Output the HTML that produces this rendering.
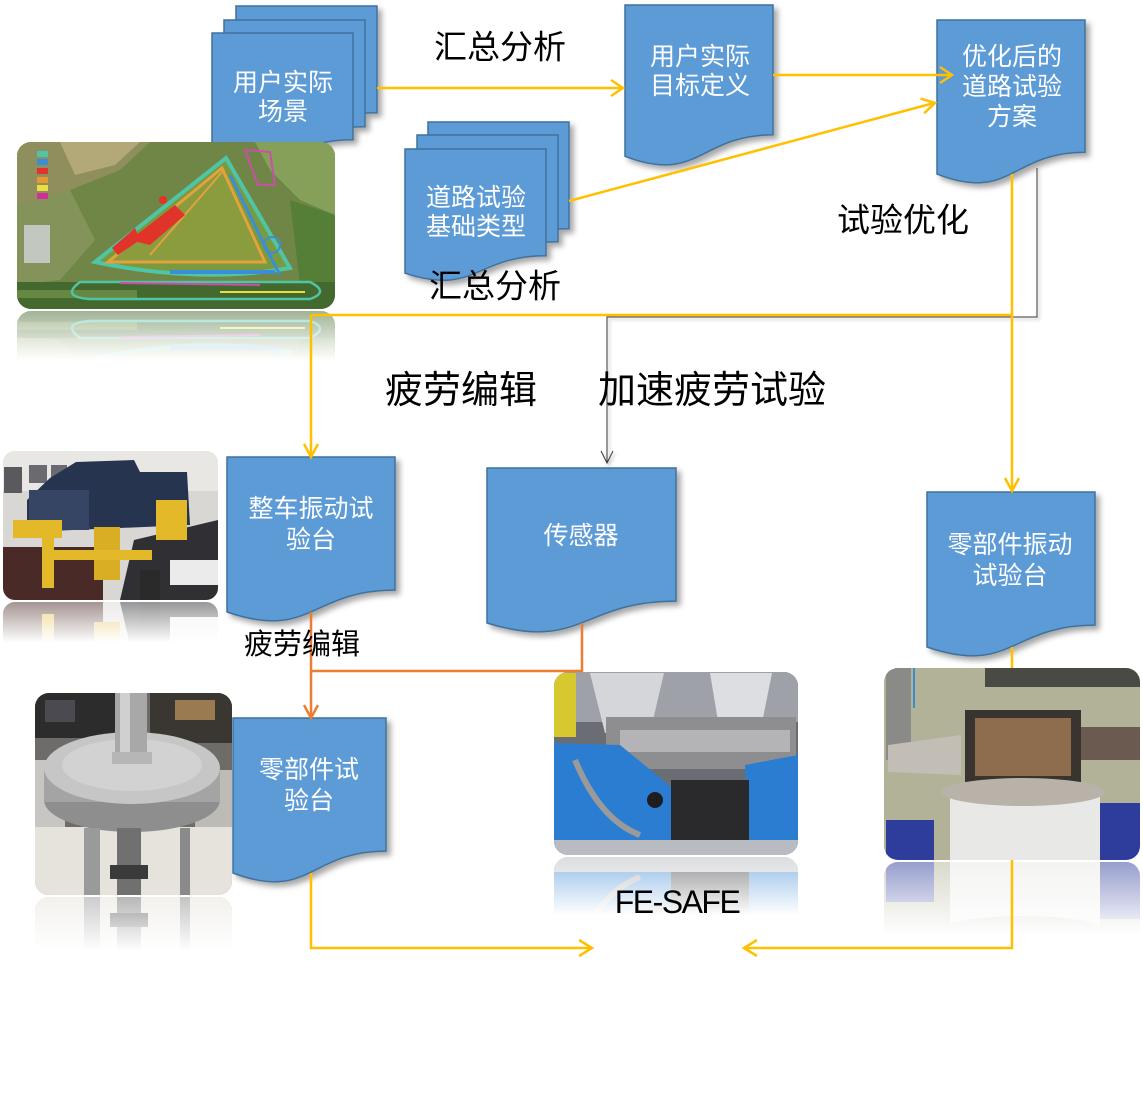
<!DOCTYPE html>
<html><head><meta charset="utf-8"><style>
html,body{margin:0;padding:0;background:#fff;}
body{width:1143px;height:1100px;overflow:hidden;}
svg{display:block;}
.w{fill:#fff;font-size:25px;font-family:"Liberation Sans","Noto Sans CJK SC",sans-serif;text-anchor:middle;dominant-baseline:central;}
.b{fill:#000;font-family:"Liberation Sans","Noto Sans CJK SC",sans-serif;text-anchor:middle;dominant-baseline:central;}
</style></head><body>
<svg width="1143" height="1100" viewBox="0 0 1143 1100" xmlns="http://www.w3.org/2000/svg">
<defs>
<filter id="sh" x="-10%" y="-10%" width="130%" height="130%"><feDropShadow dx="4" dy="4" stdDeviation="3" flood-color="#000" flood-opacity="0.35"/></filter>
<filter id="lsh" x="-5%" y="-5%" width="110%" height="110%"><feDropShadow dx="2" dy="2" stdDeviation="1.5" flood-color="#000" flood-opacity="0.3"/></filter>
<linearGradient id="fade" x1="0" y1="0" x2="0" y2="1"><stop offset="0" stop-color="#fff" stop-opacity="0.5"/><stop offset="0.9" stop-color="#fff" stop-opacity="1"/></linearGradient>
<clipPath id="c1"><rect x="17" y="142" width="318" height="167" rx="14"/></clipPath>
<clipPath id="c2"><rect x="3" y="451" width="215" height="149" rx="12"/></clipPath>
<clipPath id="c3"><rect x="35" y="693" width="197" height="202" rx="14"/></clipPath>
<clipPath id="c4"><rect x="554" y="672" width="244" height="183" rx="14"/></clipPath>
<clipPath id="c5"><rect x="884" y="668" width="256" height="192" rx="14"/></clipPath>
<clipPath id="r1"><rect x="17" y="311" width="318" height="55"/></clipPath>
<clipPath id="r2"><rect x="3" y="602" width="215" height="45"/></clipPath>
<clipPath id="r3"><rect x="35" y="897" width="197" height="60"/></clipPath>
<clipPath id="r4"><rect x="554" y="857" width="244" height="65"/></clipPath>
<clipPath id="r5"><rect x="884" y="862" width="256" height="82"/></clipPath>

<g id="p1" clip-path="url(#c1)">
<rect x="17" y="142" width="318" height="167" fill="#6f8646"/>
<path d="M17,142H150L120,170L70,190L17,205Z" fill="#8f8f5e"/>
<path d="M60,142H140L115,165L75,175Z" fill="#b3a878"/>
<path d="M17,205L70,190L95,240L60,280L17,285Z" fill="#84935a"/>
<rect x="24" y="225" width="26" height="38" fill="#c2c7bf"/>
<path d="M255,142H335V215L300,200L270,170Z" fill="#86a05a"/>
<path d="M290,200L335,215V285L300,285Z" fill="#557f36"/>
<rect x="17" y="282" width="318" height="27" fill="#43692f"/>
<rect x="17" y="290" width="120" height="8" fill="#668842"/>
<path d="M95,262 L226,158 L290,268 Q200,284 95,262Z" fill="#7a9a40" stroke="#4fc4a6" stroke-width="4"/>
<path d="M108,262 L222,168 L265,262Z" fill="#8a9c3e" stroke="#e3a23b" stroke-width="3"/>
<path d="M150,255 L222,172" stroke="#e3a23b" stroke-width="2"/>
<path d="M130,240 L175,205 L185,215 L150,245Z" fill="#e0332a"/>
<path d="M112,248 L135,228 L140,240 L118,255Z" fill="#e0332a"/>
<circle cx="163" cy="200" r="4" fill="#e0332a"/>
<path d="M230,175 L262,240 L280,275" stroke="#3b8ed6" stroke-width="3" fill="none"/>
<circle cx="272" cy="245" r="8" fill="none" stroke="#3b8ed6" stroke-width="2"/>
<path d="M170,272 H275" stroke="#3b8ed6" stroke-width="4"/>
<path d="M80,282 Q60,297 90,299 H310 Q330,292 310,282 Z" fill="none" stroke="#4fc4a6" stroke-width="2.5"/>
<path d="M220,292 H305" stroke="#e8e040" stroke-width="2"/>
<path d="M120,283 L260,285" stroke="#c94fa8" stroke-width="2"/>
<path d="M245,150 L270,152 L275,185 L258,185Z" fill="none" stroke="#c94fa8" stroke-width="2"/>
<rect x="37" y="151" width="11" height="6" fill="#4fc4a6"/>
<rect x="37" y="159" width="11" height="6" fill="#3b8ed6"/>
<rect x="37" y="168" width="11" height="6" fill="#e0332a"/>
<rect x="37" y="177" width="11" height="6" fill="#e89a30"/>
<rect x="37" y="185" width="11" height="6" fill="#e8e040"/>
<rect x="37" y="193" width="11" height="6" fill="#d0309a"/>
</g>

<g id="p2" clip-path="url(#c2)">
<rect x="3" y="451" width="215" height="149" fill="#d9d7d3"/>
<rect x="3" y="451" width="215" height="40" fill="#e8e7e4"/>
<rect x="4" y="467" width="18" height="26" fill="#5a5a5e"/>
<rect x="29" y="465" width="18" height="18" fill="#6a6a70"/>
<rect x="51" y="465" width="16" height="18" fill="#6a6a70"/>
<path d="M134,540 L218,520 V600 H120Z" fill="#2f2f34"/>
<path d="M27,500 L50,478 L76,462 L134,460 L140,472 L187,472 L190,525 L27,532Z" fill="#27344f"/>
<rect x="29" y="490" width="60" height="40" fill="#354563"/>
<rect x="3" y="547" width="100" height="53" fill="#4a2a26"/>
<rect x="13" y="520" width="49" height="18" fill="#e3b92a"/>
<rect x="42" y="538" width="12" height="50" fill="#e3b92a"/>
<rect x="94" y="527" width="26" height="53" fill="#d9ad24"/>
<rect x="156" y="500" width="31" height="40" fill="#e3b92a"/>
<rect x="54" y="550" width="98" height="10" fill="#e3b92a"/>
<rect x="170" y="560" width="48" height="25" fill="#ebebeb"/>
<rect x="140" y="570" width="20" height="30" fill="#2a2a2a"/>
</g>

<g id="p3" clip-path="url(#c3)">
<rect x="35" y="693" width="197" height="202" fill="#6e6c68"/>
<rect x="35" y="693" width="80" height="45" fill="#2c2c2c"/>
<rect x="45" y="700" width="30" height="22" fill="#4a4a50"/>
<rect x="150" y="693" width="82" height="50" fill="#3a3632"/>
<rect x="175" y="700" width="40" height="20" fill="#9a7a50"/>
<rect x="35" y="760" width="30" height="80" fill="#c8c6c2"/>
<rect x="195" y="770" width="37" height="70" fill="#bdbbb6"/>
<rect x="35" y="827" width="197" height="68" fill="#e6e3dc"/>
<ellipse cx="132" cy="800" rx="88" ry="32" fill="#8e8e8e"/>
<rect x="44" y="770" width="176" height="32" fill="#a4a4a4"/>
<ellipse cx="132" cy="768" rx="88" ry="36" fill="#c6c6c6"/>
<ellipse cx="132" cy="765" rx="70" ry="26" fill="#d2d2d2"/>
<rect x="115" y="693" width="32" height="62" fill="#a8a8a8"/>
<rect x="120" y="693" width="10" height="62" fill="#d0d0d0"/>
<rect x="112" y="752" width="40" height="12" fill="#b6b6b6"/>
<rect x="84" y="828" width="16" height="67" fill="#9a9a9a"/>
<rect x="117" y="828" width="24" height="67" fill="#707070"/>
<rect x="110" y="865" width="38" height="14" fill="#3a3a3a"/>
<rect x="180" y="828" width="10" height="67" fill="#8a8a8a"/>
</g>

<g id="p4" clip-path="url(#c4)">
<rect x="554" y="672" width="244" height="183" fill="#6a6e74"/>
<rect x="554" y="672" width="244" height="50" fill="#9ea2a8"/>
<rect x="554" y="673" width="22" height="64" fill="#d8c830"/>
<path d="M590,673 H664 L650,733 H605Z" fill="#d4d6da"/>
<path d="M710,673 H772 L760,733 H720Z" fill="#dcdee2"/>
<rect x="606" y="717" width="190" height="52" fill="#8e8e90"/>
<rect x="620" y="730" width="170" height="22" fill="#b4b4b6"/>
<path d="M554,743 L620,745 L675,790 L680,848 H554Z" fill="#2b7dd1"/>
<path d="M745,765 L798,755 V848 H750Z" fill="#2b7dd1"/>
<rect x="671" y="780" width="78" height="68" fill="#2a2a2c"/>
<rect x="554" y="840" width="244" height="15" fill="#b8bcc2"/>
<path d="M575,760 Q600,820 640,835" stroke="#9a9a9a" stroke-width="6" fill="none"/>
<circle cx="655" cy="800" r="8" fill="#1e1e1e"/>
</g>

<g id="p5" clip-path="url(#c5)">
<rect x="884" y="668" width="256" height="192" fill="#b2b298"/>
<rect x="985" y="668" width="155" height="19" fill="#4a4a45"/>
<rect x="886" y="668" width="25" height="92" fill="#8a8a88"/>
<rect x="1081" y="727" width="62" height="33" fill="#6a5a50"/>
<rect x="965" y="710" width="116" height="72" fill="#3a3430"/>
<rect x="975" y="718" width="96" height="58" fill="#8e6c4e"/>
<path d="M888,745 L961,735 L961,775 L888,772Z" fill="#c2beb6"/>
<rect x="950" y="793" width="150" height="67" fill="#e8e8e6"/>
<ellipse cx="1023" cy="792" rx="82" ry="14" fill="#b8b2a8"/>
<rect x="886" y="820" width="48" height="40" fill="#2e3d9c"/>
<rect x="1100" y="803" width="43" height="57" fill="#2e3d9c"/>
<rect x="913" y="668" width="2" height="40" fill="#3a8ed0"/>
</g>
</defs>

<!-- reflections -->
<g clip-path="url(#r1)"><use href="#p1" transform="matrix(1 0 0 -1 0 620)"/></g>
<rect x="17" y="311" width="318" height="55" fill="url(#fade)"/>
<g clip-path="url(#r2)"><use href="#p2" transform="matrix(1 0 0 -1 0 1202)"/></g>
<rect x="3" y="602" width="215" height="45" fill="url(#fade)"/>
<g clip-path="url(#r3)"><use href="#p3" transform="matrix(1 0 0 -1 0 1792)"/></g>
<rect x="35" y="897" width="197" height="60" fill="url(#fade)"/>
<g clip-path="url(#r4)"><use href="#p4" transform="matrix(1 0 0 -1 0 1712)"/></g>
<rect x="554" y="857" width="244" height="65" fill="url(#fade)"/>
<g clip-path="url(#r5)"><use href="#p5" transform="matrix(1 0 0 -1 0 1722)"/></g>
<rect x="884" y="862" width="256" height="82" fill="url(#fade)"/>

<!-- scene stack (behind photo 1) -->
<g fill="#5B9BD5" stroke="#41719C" stroke-width="1.5" filter="url(#sh)">
<path d="M236,6H377V112.7C306.5,112.7 306.5,153.3 236,130.2Z"/>
<path d="M224,20H365V126.7C294.5,126.7 294.5,167.3 224,144.2Z"/>
<path d="M212,33H353V139.7C282.5,139.7 282.5,180.3 212,157.2Z"/>
</g>

<!-- photos -->
<use href="#p1"/>
<use href="#p2"/>
<use href="#p3"/>
<use href="#p4"/>
<use href="#p5"/>

<!-- documents -->
<g fill="#5B9BD5" stroke="#41719C" stroke-width="1.5" filter="url(#sh)">
<path d="M625,5H773V134.9C699,134.9 699,184.4 625,156.3Z"/>
<path d="M937,20H1085V152.3C1011,152.3 1011,202.7 937,174.1Z"/>
<path d="M428,122H569V228.7C498.5,228.7 498.5,269.3 428,246.2Z"/>
<path d="M417,135H558V241.7C487.5,241.7 487.5,282.3 417,259.2Z"/>
<path d="M405,149H546V255.7C475.5,255.7 475.5,296.3 405,273.2Z"/>
<path d="M227,457H395V590.1C311,590.1 311,640.8 227,612Z"/>
<path d="M487,468H676V601.1C581.5,601.1 581.5,651.8 487,623Z"/>
<path d="M927,492H1095V625.1C1011,625.1 1011,675.8 927,647Z"/>
<path d="M233,718H386V851.1C309.5,851.1 309.5,901.8 233,873Z"/>
</g>

<!-- gray connector -->
<g filter="url(#lsh)">
<path d="M1037,168 V317 H607 V463" fill="none" stroke="#3a3a3a" stroke-width="1"/>
<path d="M601,451 L607,463 L613,451" fill="none" stroke="#3a3a3a" stroke-width="1"/>
</g>

<!-- yellow connectors -->
<g fill="none" stroke="#FFC000" stroke-width="2.5" stroke-linejoin="miter">
<path d="M377,88 H622"/>
<path d="M611,80 L623,88 L611,96"/>
<path d="M773,75 H952"/>
<path d="M940,67 L952,75 L940,83"/>
<path d="M569,201 L934,103"/>
<path d="M920.6,98.6 L935,103 L924.2,113.2"/>
<path d="M311,315 H1013"/>
<path d="M311,315 V456"/>
<path d="M304,444 L311,457 L318,444"/>
<path d="M1012,174 V490"/>
<path d="M1005,478 L1012,491 L1019,478"/>
<path d="M311,873 V948 H591"/>
<path d="M579,940 L592,948 L579,956"/>
<path d="M1012,647 V668"/>
<path d="M1012,860 V948 H745"/>
<path d="M757,940 L744,948 L757,956"/>
</g>

<!-- orange connectors -->
<g fill="none" stroke="#ED7D31" stroke-width="2.5">
<path d="M311,612 V716"/>
<path d="M304,705 L311,718 L318,705"/>
<path d="M582,623 V671 H311"/>
</g>

<!-- doc texts -->
<text class="w" x="283" y="83">用户实际</text>
<text class="w" x="283" y="112">场景</text>
<text class="w" x="700" y="57">用户实际</text>
<text class="w" x="700" y="86">目标定义</text>
<text class="w" x="1012" y="57">优化后的</text>
<text class="w" x="1012" y="87">道路试验</text>
<text class="w" x="1012" y="117">方案</text>
<text class="w" x="476" y="198">道路试验</text>
<text class="w" x="476" y="227">基础类型</text>
<text class="w" x="311" y="509">整车振动试</text>
<text class="w" x="311" y="540">验台</text>
<text class="w" x="581" y="536">传感器</text>
<text class="w" x="1010" y="545">零部件振动</text>
<text class="w" x="1010" y="576">试验台</text>
<text class="w" x="309" y="770">零部件试</text>
<text class="w" x="309" y="801">验台</text>

<!-- black labels -->
<text class="b" x="500" y="47" font-size="33">汇总分析</text>
<text class="b" x="495" y="286" font-size="33">汇总分析</text>
<text class="b" x="903" y="220" font-size="33">试验优化</text>
<text class="b" x="461" y="391" font-size="38">疲劳编辑</text>
<text class="b" x="712" y="391" font-size="38">加速疲劳试验</text>
<text class="b" x="302" y="645" font-size="29">疲劳编辑</text>
<text class="b" x="677" y="902" font-size="32" letter-spacing="-1.5">FE-SAFE</text>
</svg>
</body></html>
